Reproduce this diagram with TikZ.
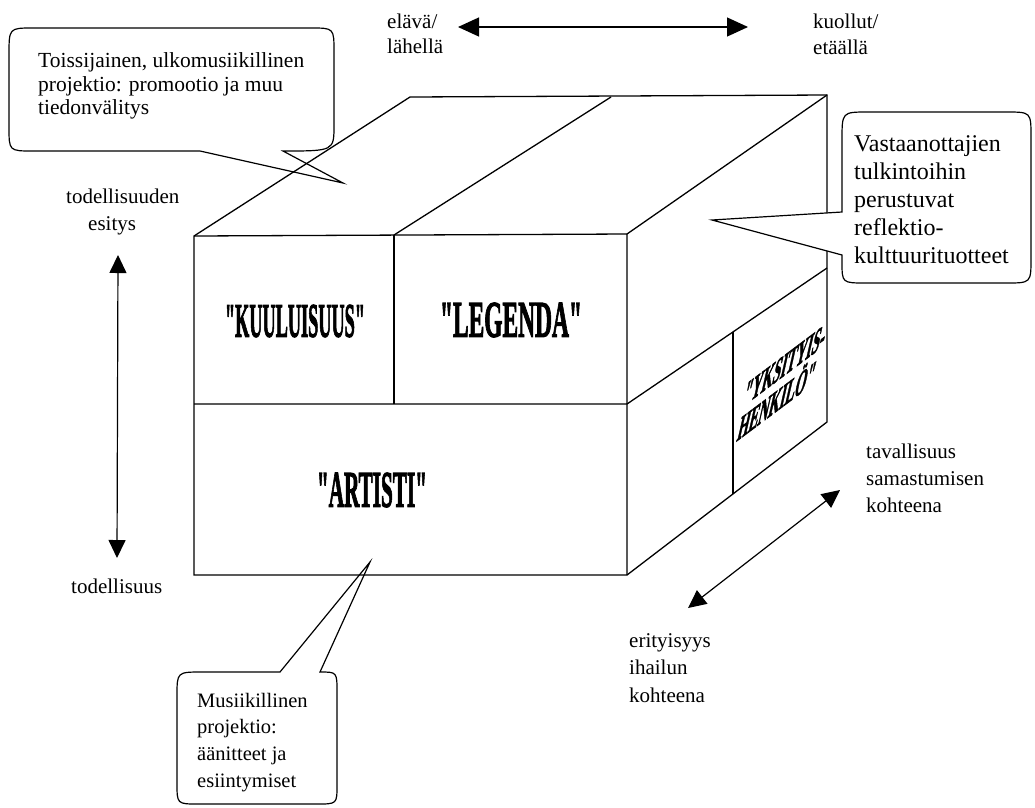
\documentclass[tikz,border=0pt]{standalone}
\usepackage{fontspec}
\setmainfont{Liberation Serif}[Ligatures=TeXOff]
\newfontfamily\heavyf{Liberation Serif}[Ligatures=TeXOff, BoldFeatures={FakeBold=2.5}]
\usetikzlibrary{arrows.meta}
\begin{document}
\begin{tikzpicture}[x=1pt,y=-1pt,
  edge/.style={line width=1.3pt, line join=miter},
  bubble/.style={line width=1.2pt, fill=white, line join=miter},
  txt/.style={anchor=base west, inner sep=0pt, font=\fontsize{21}{25}\selectfont},
  ctxtL/.style={anchor=base west, inner sep=0pt, font=\fontsize{21.5}{25}\selectfont},
  ctxtR/.style={anchor=base west, inner sep=0pt, font=\fontsize{24}{28}\selectfont},
  ctxtB/.style={anchor=base west, inner sep=0pt, font=\fontsize{20.5}{25}\selectfont},
  big/.style={inner sep=0pt, anchor=center},
  dbl/.style={line width=1.2pt, {Triangle[length=18pt,width=17pt]}-{Triangle[length=18pt,width=17pt]}}
]
\useasboundingbox (0,0) rectangle (1035,807);
\clip (0,0) rectangle (1035,807);
\fill[white] (0,0) rectangle (1035,807);

% left callout (drawn under the box)
\draw[bubble] (200,151) -- (343,183) -- (283,151) .. controls (334,151) .. (334,125)
  -- (334,52) .. controls (334,28) .. (311,28) -- (33,28) .. controls (9,28) .. (9,55)
  -- (9,127) .. controls (9,151) .. (33,151) -- cycle;
% bottom callout
\draw[bubble] (280,672) -- (370,562) -- (320,672) .. controls (337,672) .. (337,692)
  -- (337,785) .. controls (337,804) .. (317,804) -- (198,804) .. controls (177,804) .. (177,783)
  -- (177,696) .. controls (177,672) .. (202,672) -- cycle;

% box
\coordinate (A) at (194,236); \coordinate (B) at (394,235); \coordinate (C) at (627,234);
\coordinate (D) at (410,97);  \coordinate (E) at (611,97);  \coordinate (F) at (827,95);
\coordinate (G) at (194,404); \coordinate (H) at (627,404); \coordinate (Bm) at (394,404);
\coordinate (I) at (194,575); \coordinate (J) at (627,575);
\coordinate (K) at (827,268); \coordinate (L) at (827,422);
\coordinate (M) at (733,332); \coordinate (N) at (733,494);
\draw[edge] (A) -- (D) -- (F) -- (L) -- (J) -- (I) -- cycle;
\draw[edge] (A) -- (C) -- (J);
\draw[edge] (C) -- (F);
\draw[edge] (B) -- (E);
\draw[edge] (B) -- (Bm);
\draw[edge] (G) -- (H) -- (K);
\draw[edge] (M) -- (N);

% right callout (covers the box edge)
\draw[bubble] (842,212) -- (712,220) -- (842,255) -- (842,262) .. controls (842,283) .. (866,283)
  -- (1006,283) .. controls (1031,283) .. (1031,258) -- (1031,137) .. controls (1031,112) .. (1006,112)
  -- (868,112) .. controls (842,112) .. (842,140) -- cycle;

% big labels
\node[big] (kuul) at (295,321) {\resizebox{140pt}{32pt}{\heavyf\bfseries"KUULUISUUS"}};
\node[big] (leg) at (511,320) {\resizebox{142pt}{34pt}{\heavyf\bfseries"LEGENDA"}};
\node[big] (art) at (372,490) {\resizebox{110pt}{34pt}{\heavyf\bfseries"ARTISTI"}};
\node[big, align=center, cm={0.8,0.6,0.22,0.976,(0,0)}] (yks) at (781,383)
  {\scalebox{0.47}[1]{\fontsize{38}{38}\selectfont\heavyf\bfseries"YKSITYIS-}\\[4pt]
   \scalebox{0.47}[1]{\fontsize{38}{38}\selectfont\heavyf\bfseries HENKILÖ"}};

% callout texts
\node[ctxtL] (l1) at (38,67) {Toissijainen, ulkomusiikillinen};
\node[ctxtL] (l2) at (38,91) {projektio: promootio ja muu};
\node[ctxtL] (l3) at (38,114) {tiedonvälitys};

\node[ctxtR] (r1) at (854,151) {Vastaanottajien};
\node[ctxtR] (r2) at (854,179) {tulkintoihin};
\node[ctxtR] (r3) at (854,207) {perustuvat};
\node[ctxtR] (r4) at (854,235) {reflektio-};
\node[ctxtR] (r5) at (854,263) {kulttuurituotteet};

\node[ctxtB] (b1) at (197,707) {Musiikillinen};
\node[ctxtB] (b2) at (197,733) {projektio:};
\node[ctxtB] (b3) at (197,760) {äänitteet ja};
\node[ctxtB] (b4) at (197,787) {esiintymiset};

% axis labels
\node[txt] (e1) at (387,28) {elävä/};
\node[txt] (e2) at (387,53) {lähellä};
\node[txt] (k1) at (813,28) {kuollut/};
\node[txt] (k2) at (813,54) {etäällä};
\node[txt] (t1) at (66,203) {todellisuuden};
\node[txt] (t2) at (88,230) {esitys};
\node[txt] (t3) at (71,593) {todellisuus};
\node[txt] (v1) at (866,458) {tavallisuus};
\node[txt] (v2) at (866,485) {samastumisen};
\node[txt] (v3) at (866,512) {kohteena};
\node[txt] (w1) at (629,647) {erityisyys};
\node[txt] (w2) at (629,674) {ihailun};
\node[txt] (w3) at (629,702) {kohteena};

% arrows
\coordinate (ha) at (458,27); \coordinate (hb) at (748,27);
\draw[line width=1.2pt, {Triangle[length=21pt,width=19pt]}-{Triangle[length=21pt,width=19pt]}] (ha) -- (hb);
\coordinate (va) at (118,255); \coordinate (vb) at (117,558);
\draw[dbl] (va) -- (vb);
\coordinate (da) at (688,608); \coordinate (db) at (840,490);
\draw[dbl] (da) -- (db);
\end{tikzpicture}
\end{document}
